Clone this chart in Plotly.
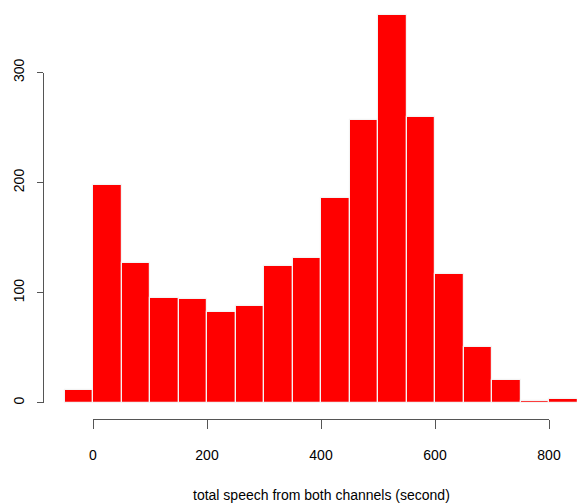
import plotly.graph_objects as go

bin_left = [-50, 0, 50, 100, 150, 200, 250, 300, 350, 400, 450, 500, 550, 600, 650, 700, 750, 800]
counts = [12, 198, 127, 95, 94, 82, 88, 124, 131, 186, 257, 352, 259, 117, 51, 21, 2, 3]
bin_width = 50
x_ticks = [0, 200, 400, 600, 800]
y_ticks = [0, 100, 200, 300]
x_title = "total speech from both channels (second)"

W, H = 577, 504
FONT = "Liberation Sans, Arial, Helvetica, sans-serif"
AXC = "#555555"

fig = go.Figure()
fig.add_trace(go.Bar(
    x=bin_left, y=counts, width=[bin_width] * len(bin_left), offset=0,
    marker=dict(color="#ff0000", line=dict(color="#f4f4f4", width=1.2)),
    xaxis="x", yaxis="y", showlegend=False, hoverinfo="x+y",
))
# empty trace to host the R-style detached axes
fig.add_trace(go.Scatter(x=[], y=[], xaxis="x2", yaxis="y2", showlegend=False))

fig.update_layout(
    width=W, height=H,
    margin=dict(l=0, r=0, t=0, b=0, autoexpand=False),
    paper_bgcolor="white", plot_bgcolor="rgba(0,0,0,0)",
    bargap=0,
    font=dict(family=FONT, size=14, color="black"),
    xaxis=dict(range=[-163.2, 849.1], visible=False, domain=[0, 1], automargin=False),
    yaxis=dict(range=[-91.9, 365.6], visible=False, domain=[0, 1], automargin=False),
    xaxis2=dict(
        domain=[93 / W, 549 / W], range=[0, 800], anchor="free", automargin=False,
        position=(H - 419) / H, showline=True, linecolor=AXC, linewidth=1.2,
        ticks="outside", ticklen=9, tickwidth=1.2, tickcolor=AXC,
        tickvals=x_ticks, ticktext=[str(v) for v in x_ticks],
        showgrid=False, zeroline=False, ticklabelstandoff=14,
        tickfont=dict(family=FONT, size=14, color="black"),
    ),
    yaxis2=dict(
        domain=[(H - 402.8) / H, (H - 72.5) / H], range=[0, 300], anchor="free",
        automargin=False,
        position=43.3 / W, showline=True, linecolor=AXC, linewidth=1.2,
        ticks="outside", ticklen=6, tickwidth=1.2, tickcolor=AXC,
        tickvals=y_ticks, ticktext=[str(v) for v in y_ticks], tickangle=-90,
        showgrid=False, zeroline=False, ticklabelstandoff=8,
        tickfont=dict(family=FONT, size=14, color="black"),
    ),
    annotations=[dict(
        text=x_title, xref="x2", yref="paper", x=400, y=(H - 495) / H,
        xanchor="center", yanchor="middle", showarrow=False,
        font=dict(family=FONT, size=14, color="black"),
    )],
)

fig.write_html(
    "out.html",
    config={"displayModeBar": False},
    post_script="document.body.style.margin='0px';document.body.style.overflow='hidden';",
)
